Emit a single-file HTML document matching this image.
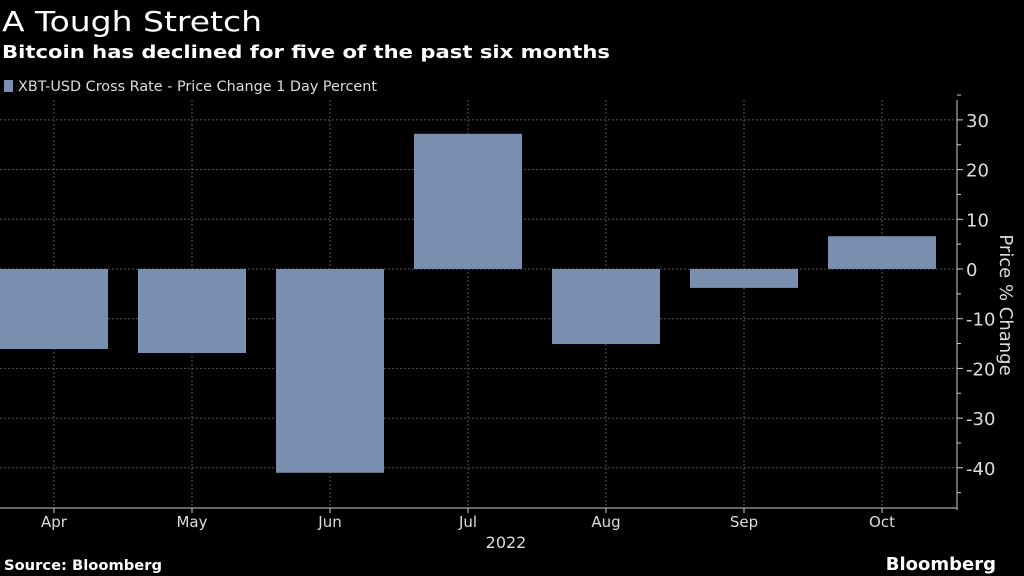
<!DOCTYPE html>
<html><head><meta charset="utf-8"><style>
body{margin:0;background:#000;width:1024px;height:576px;overflow:hidden;font-family:"DejaVu Sans","Liberation Sans",sans-serif;color:#fff}
svg{position:absolute;left:0;top:0}
</style></head><body>
<svg width="1024" height="576">
<text x="2" y="31" font-size="28" fill="#fff" textLength="260" lengthAdjust="spacingAndGlyphs">A Tough Stretch</text>
<text x="2" y="58" font-size="18" font-weight="bold" fill="#fff" textLength="608" lengthAdjust="spacingAndGlyphs">Bitcoin has declined for five of the past six months</text>
<rect x="4" y="80" width="9" height="12" fill="#7a8fb0"/>
<text x="18" y="91" font-size="14" fill="#ddd" textLength="359" lengthAdjust="spacingAndGlyphs">XBT-USD Cross Rate - Price Change 1 Day Percent</text>
<g id="grid"></g><g id="bars"></g><g id="axes"></g>
<text transform="translate(1000,305) rotate(90)" text-anchor="middle" font-size="18" fill="#ddd">Price % Change</text>
<text x="506" y="548" text-anchor="middle" font-size="16" fill="#ddd">2022</text>
<text x="4" y="570" font-size="14" font-weight="bold" fill="#fff" textLength="158" lengthAdjust="spacingAndGlyphs">Source: Bloomberg</text>
<text x="996" y="570" text-anchor="end" font-size="18" font-weight="bold" fill="#fff">Bloomberg</text>
</svg>
<script>
const categories=["Apr","May","Jun","Jul","Aug","Sep","Oct"];
const values=[-16.1,-16.9,-41.0,27.2,-15.1,-3.8,6.6];
const yTicks=[30,20,10,0,-10,-20,-30,-40];
const NS="http://www.w3.org/2000/svg";
const y=v=>269-v*4.97;
const x=i=>54+i*138;
function mk(p,t,a){const e=document.createElementNS(NS,t);for(const k in a)e.setAttribute(k,a[k]);document.getElementById(p).appendChild(e);return e;}
yTicks.forEach(t=>{
 const g=mk('grid','line',{x1:0,x2:957,y1:y(t),y2:y(t),stroke:'#555','stroke-dasharray':'2,2'});
 
 
 mk('axes','line',{x1:957,x2:963,y1:y(t),y2:y(t),stroke:'#ccc'});
 mk('axes','line',{x1:957,x2:961,y1:y(t+5),y2:y(t+5),stroke:'#ccc'});
 const l=mk('axes','text',{x:966,y:y(t)+7,'font-size':18,fill:'#ddd'});l.textContent=t;
 
 
});
mk('axes','line',{x1:957,x2:961,y1:y(-45),y2:y(-45),stroke:'#ccc'});
categories.forEach((c,i)=>{
 const g=mk('grid','line',{x1:x(i),x2:x(i),y1:100,y2:508,stroke:'#555','stroke-dasharray':'2,2'});
 
 
 const v=values[i];
 const r=mk('bars','rect',{x:x(i)-54,width:108,y:Math.min(y(v),y(0)),height:Math.abs(y(v)-y(0)),fill:'#7a8fb0'});
 
 
 mk('axes','line',{x1:x(i),x2:x(i),y1:508,y2:513,stroke:'#ccc'});
 const l=mk('axes','text',{x:x(i),y:527,'text-anchor':'middle','font-size':15,fill:'#ddd'});l.textContent=c;
 
 
});
mk('axes','line',{x1:0,x2:957,y1:508,y2:508,stroke:'#ccc'});
mk('axes','line',{x1:957,x2:957,y1:100,y2:510,stroke:'#ccc'});
</script>
</body></html>
